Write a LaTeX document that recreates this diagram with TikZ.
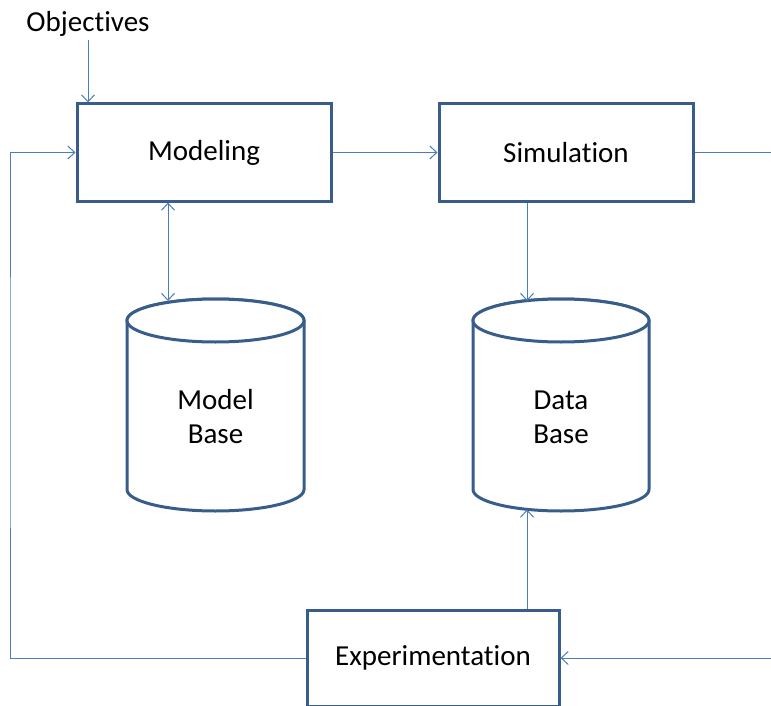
\documentclass[tikz,border=0pt]{standalone}
\usepackage{fontspec}
\setmainfont{Carlito}[Ligatures={NoCommon}]
\usetikzlibrary{arrows.meta}
\definecolor{boxblue}{HTML}{385D8A}
\definecolor{linkblue}{HTML}{4A7EBB}
\begin{document}
\begin{tikzpicture}[x=1pt,y=1pt,
  every node/.style={font=\fontsize{29}{34}\selectfont, text=black},
  blockbox/.style={draw=boxblue, line width=3pt, fill=white, minimum width=254pt, minimum height=97pt, inner sep=0pt},
  cyl/.style={draw=boxblue, line width=3pt, fill=white},
  link/.style={draw=linkblue, line width=1pt},
  tip/.style={-{Straight Barb[length=7pt,width=13pt]}},
  dtip/.style={{Straight Barb[length=7pt,width=13pt]}-{Straight Barb[length=7pt,width=13pt]}}]
\useasboundingbox (0,0) rectangle (771,-706);

% cylinders
\path[cyl] (127,-320.5) -- (127,-489.5) arc[start angle=180,end angle=360,x radius=88.5,y radius=21.5] -- (304,-320.5) arc[start angle=0,end angle=180,x radius=88.5,y radius=21.5] -- cycle;
\draw[cyl] (215.5,-320.5) ellipse[x radius=88.5,y radius=21.5];
\path[cyl] (473,-320.5) -- (473,-489.5) arc[start angle=180,end angle=360,x radius=88,y radius=21.5] -- (649,-320.5) arc[start angle=0,end angle=180,x radius=88,y radius=21.5] -- cycle;
\draw[cyl] (561,-320.5) ellipse[x radius=88,y radius=21.5];

\node[align=center] (mbt) at (215.5,-417) {Model\\Base};
\node[align=center] (dbt) at (561,-417) {Data\\Base};
\coordinate (mbin) at (168,-301);
\coordinate (dbin) at (527,-301);
\coordinate (dbout) at (527,-509.5);

% boxes
\node[blockbox] (mod) at (204,-152.5) {\raisebox{-2pt}{Modeling}};
\node[blockbox] (sim) at (566,-152.5) {\raisebox{-2pt}{Simulation}};
\node[blockbox, minimum width=252pt, minimum height=96pt] (exp) at (433,-658) {\raisebox{-2pt}{Experimentation}};
\node[anchor=base, inner sep=3pt] (obj) at (88,-32) {Objectives};

\coordinate (lc) at (10,-400);
\coordinate (re) at (771,-152.5);
\coordinate (rb) at (771,-658);

% connectors
\draw[link,tip] (obj.south) -- (obj.south |- mod.north);
\draw[link,tip] (mod.east) -- (sim.west);
\draw[link] (sim.east) -- (re);
\draw[link,tip] (rb) -- (rb -| exp.east);
\draw[link,tip] (exp.west) -| (lc) |- (mod.west);
\draw[link,dtip] (mbin |- mod.south) -- (mbin);
\draw[link,tip] (dbin |- sim.south) -- (dbin);
\draw[link,tip] (dbout |- exp.north) -- (dbout);
\end{tikzpicture}
\end{document}
